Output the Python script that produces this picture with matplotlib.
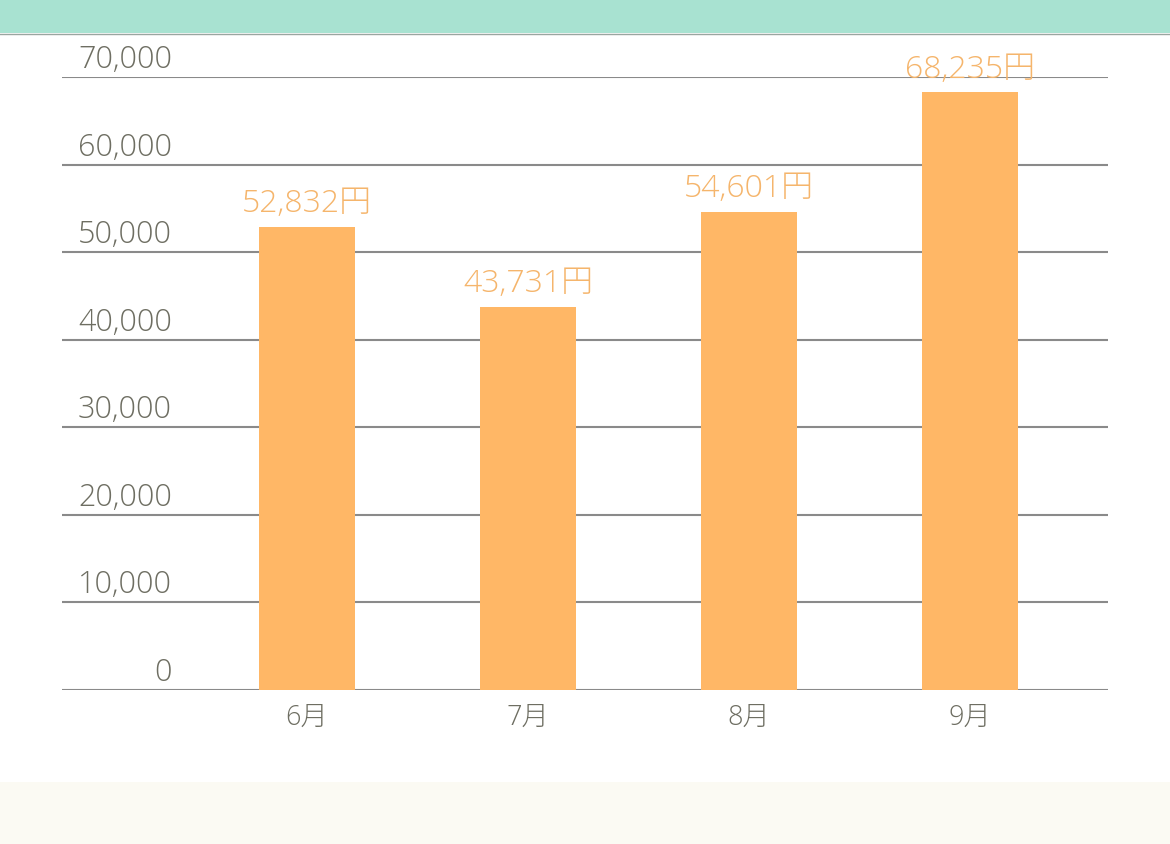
import matplotlib
matplotlib.use("Agg")
import matplotlib.pyplot as plt
from matplotlib.patches import Rectangle
from matplotlib.transforms import blended_transform_factory, offset_copy

plt.rcParams['font.family'] = ['Open Sans', 'Noto Sans CJK JP', 'DejaVu Sans']

months = ["6月", "7月", "8月", "9月"]
values = [52832, 43731, 54601, 68235]
value_labels = ["52,832円", "43,731円", "54,601円", "68,235円"]
yticks = [0, 10000, 20000, 30000, 40000, 50000, 60000, 70000]
ytick_labels = ["0", "10,000", "20,000", "30,000", "40,000", "50,000", "60,000", "70,000"]

W, H = 1170, 844
fig = plt.figure(figsize=(W / 100, H / 100), dpi=100)
fig.patch.set_facecolor("white")

# top band and bottom band
fig.add_artist(Rectangle((0, 1 - 33 / H), 1, 33 / H, transform=fig.transFigure,
                         facecolor="#a8e2d1", edgecolor="none", zorder=0))
fig.add_artist(plt.Line2D([0, 1], [1 - 33.5 / H, 1 - 33.5 / H], transform=fig.transFigure,
                          color="#9aa5a0", lw=1.0))
fig.add_artist(Rectangle((0, 0), 1, (H - 782) / H, transform=fig.transFigure,
                         facecolor="#fbfaf3", edgecolor="none", zorder=0))

left, right = 62, 1108
bottom, top = 690, 77
ax = fig.add_axes([left / W, (H - bottom) / H, (right - left) / W, (bottom - top) / H])
ax.set_facecolor("none")

x = list(range(len(months)))
step = 221.0
ax.set_xlim(-(307 - left) / step, 3 + (right - 970) / step)
ax.set_ylim(0, 70000)

for s in ax.spines.values():
    s.set_visible(False)

for t in yticks:
    ax.axhline(t, color="#8a8a8a", lw=1.5, zorder=1)

ax.bar(x, values, width=96 / step, color="#ffb766", zorder=2)

ax.set_yticks([])
ax.set_xticks(x)
ax.set_xticklabels(months, fontsize=19.5, color="#6e6e62", fontweight="light")
ax.tick_params(axis="x", length=0, pad=10)

tr = blended_transform_factory(ax.transAxes, ax.transData)
tr = offset_copy(tr, fig=fig, x=0, y=1, units="dots")
for t, lab in zip(yticks, ytick_labels):
    ax.text((172 - left) / (right - left), t, lab, transform=tr, ha="right", va="bottom",
            fontsize=22, color="#6e6e62", fontweight="light")

for xi, v, lab in zip(x, values, value_labels):
    ax.annotate(lab, (xi, v), xytext=(0, 5), textcoords="offset points",
                ha="center", va="bottom", fontsize=23, color="#f5b56c",
                fontweight="light", annotation_clip=False, zorder=3)

fig.savefig("out.png", dpi=100)
